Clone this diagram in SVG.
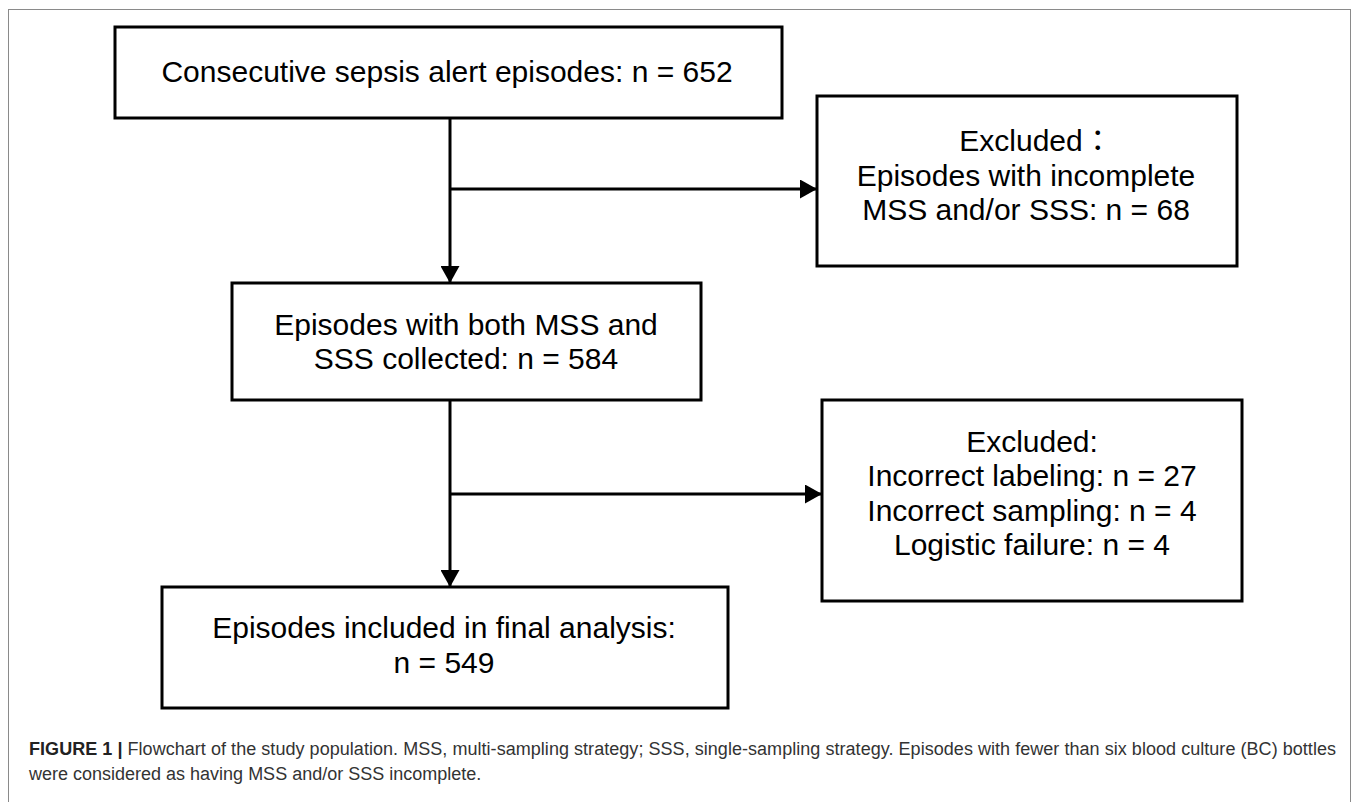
<svg xmlns="http://www.w3.org/2000/svg" width="1357" height="802" viewBox="0 0 1357 802">
<style>
  .box { fill: #ffffff; stroke: #000000; stroke-width: 3; }
  .lbl { font-family: "Liberation Sans", Arial, "Noto Sans CJK TC", sans-serif; font-size: 30px; fill: #000000; text-anchor: middle; }
  .conn { fill: none; stroke: #000000; stroke-width: 3; }
  .cap { font-family: "Liberation Sans", Arial, sans-serif; font-size: 18px; fill: #333333; }
  .capb { font-weight: bold; fill: #222222; }
</style>
<defs>
  <marker id="arrow" viewBox="0 0 17 19" refX="17" refY="9.5" markerWidth="17" markerHeight="19" markerUnits="userSpaceOnUse" orient="auto">
    <path d="M0,0 L17,9.5 L0,19 Z" fill="#000000"/>
  </marker>
</defs>
<rect x="0" y="0" width="1357" height="802" fill="#ffffff"/>
<rect id="frame" x="8.5" y="9.5" width="1342" height="800" fill="none" stroke="#8a8a8a" stroke-width="1"/>

<g id="connectors">
  <path class="conn" d="M450,119 V283" marker-end="url(#arrow)"/>
  <path class="conn" d="M450,189 H817" marker-end="url(#arrow)"/>
  <path class="conn" d="M450,400 V587" marker-end="url(#arrow)"/>
  <path class="conn" d="M450,494 H822" marker-end="url(#arrow)"/>
</g>

<g id="node-consecutive">
  <rect class="box" x="115" y="27" width="667" height="91"/>
  <text class="lbl" x="447" y="82">Consecutive sepsis alert episodes: n = 652</text>
</g>

<g id="node-excluded-1">
  <rect class="box" x="817" y="96" width="420" height="170"/>
  <text class="lbl" x="1036" y="151">Excluded：</text>
  <text class="lbl" x="1026" y="186">Episodes with incomplete</text>
  <text class="lbl" x="1026" y="220">MSS and/or SSS: n = 68</text>
</g>

<g id="node-both">
  <rect class="box" x="232" y="283" width="469" height="117"/>
  <text class="lbl" x="466" y="335">Episodes with both MSS and</text>
  <text class="lbl" x="466" y="369">SSS collected: n = 584</text>
</g>

<g id="node-excluded-2">
  <rect class="box" x="822" y="400" width="420" height="201"/>
  <text class="lbl" x="1032" y="452">Excluded:</text>
  <text class="lbl" x="1032" y="486">Incorrect labeling: n = 27</text>
  <text class="lbl" x="1032" y="521">Incorrect sampling: n = 4</text>
  <text class="lbl" x="1032" y="555">Logistic failure: n = 4</text>
</g>

<g id="node-final">
  <rect class="box" x="162" y="587" width="566" height="121"/>
  <text class="lbl" x="444" y="638">Episodes included in final analysis:</text>
  <text class="lbl" x="444" y="673">n = 549</text>
</g>

<g id="caption">
  <text class="cap" x="29" y="755" textLength="1307"><tspan class="capb">FIGURE 1 | </tspan>Flowchart of the study population. MSS, multi-sampling strategy; SSS, single-sampling strategy. Episodes with fewer than six blood culture (BC) bottles</text>
  <text class="cap" x="29" y="780">were considered as having MSS and/or SSS incomplete.</text>
</g>
</svg>
